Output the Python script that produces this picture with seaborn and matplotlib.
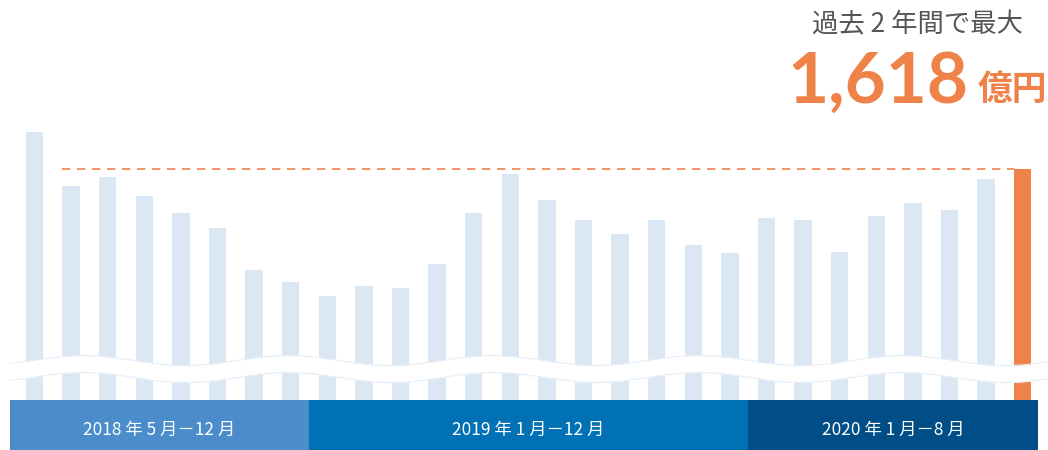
import numpy as np
import matplotlib
matplotlib.use("Agg")
from matplotlib import pyplot as plt
from matplotlib.patches import Rectangle
import matplotlib.transforms as mtransforms
import seaborn as sns

# monthly values (億円), May 2018 - Aug 2020
months = ['2018-05', '2018-06', '2018-07', '2018-08', '2018-09', '2018-10', '2018-11', '2018-12',
          '2019-01', '2019-02', '2019-03', '2019-04', '2019-05', '2019-06', '2019-07', '2019-08',
          '2019-09', '2019-10', '2019-11', '2019-12',
          '2020-01', '2020-02', '2020-03', '2020-04', '2020-05', '2020-06', '2020-07', '2020-08']
sales = [1717, 1572, 1598, 1547, 1501, 1462, 1347, 1316,
         1278, 1306, 1300, 1365, 1502, 1605, 1535, 1481,
         1446, 1481, 1415, 1393,
         1487, 1481, 1397, 1494, 1529, 1510, 1591, 1618]
periods = ['2018 年 5 月－12 月', '2019 年 1 月－12 月', '2020 年 1 月－8 月']
period_lengths = [8, 12, 8]
period_colors = ['#4a8dca', '#0071b5', '#004d88']
headline = '過去 2 年間で最大'
peak_label = '1,618'
unit_label = '億円'

LIGHT = '#dbe7f3'
ORANGE = '#ef8248'

sns.set_theme(style='white')
plt.rcParams['font.family'] = ['Noto Sans CJK JP', 'DejaVu Sans']

# broken axis: baseline hidden below the wave
BASE = 1000
peak = sales[-1]
k = (peak - BASE) / (400 - 169.3)   # value per pixel

def px2x(px):
    return (np.asarray(px) - 34.5) / 36.6

def py2y(py):
    return BASE + (400 - np.asarray(py)) * k

fig = plt.figure(figsize=(10.48, 4.5), dpi=100)
ax = fig.add_axes([0, 0, 1, 1])

bar_colors = [LIGHT] * (len(sales) - 1) + [ORANGE]
sns.barplot(x=months, y=sales, hue=months, palette=bar_colors, width=0.48,
            saturation=1, legend=False, ax=ax, linewidth=0)
ax.set_xlim(px2x(0), px2x(1048))
ax.set_ylim(py2y(450), py2y(0))
ax.axis('off')

# dashed reference line at the peak
ax.hlines(peak, 0.74, len(sales) - 1.24, colors=ORANGE, linestyles=(0, (5, 4)),
          linewidth=1.2, zorder=3)

# wavy break
wx = np.linspace(10, 1048, 400)
wc = 369 - 5 * np.cos(2 * np.pi * (wx - 83) / 205)
ax.fill_between(px2x(wx), py2y(wc - 8.5), py2y(wc + 8.5), color='white', lw=0, zorder=4)
ax.plot(px2x(wx), py2y(wc - 8.5), color='#e6eef7', lw=0.8, zorder=4)
ax.plot(px2x(wx), py2y(wc + 8.5), color='#e6eef7', lw=0.8, zorder=4)

# period bands
trans = mtransforms.blended_transform_factory(ax.transData, ax.transAxes)
edges = [px2x(10)] + list(np.cumsum(period_lengths)[:-1] - 0.5) + [px2x(1038.3)]
for i, label in enumerate(periods):
    left, right = edges[i], edges[i + 1]
    ax.add_patch(Rectangle((left, 0), right - left, 50 / 450, transform=trans,
                           color=period_colors[i], lw=0, zorder=5))
    ax.text((left + right) / 2, 20 / 450, label, transform=trans, ha='center', va='center',
            color='white', fontsize=12.5, zorder=6)

# headline
fig.text(917 / 1048, 1 - 25 / 450, headline, ha='center', va='center',
         fontsize=19, color='#555555')
fig.text(968 / 1048, (450 - 103) / 450, peak_label, ha='right', va='baseline',
         fontsize=51, fontweight='bold', color=ORANGE, family=['Lato', 'DejaVu Sans'])
fig.text(978 / 1048, (450 - 100) / 450, unit_label, ha='left', va='baseline',
         fontsize=25, fontweight='bold', color=ORANGE)

fig.savefig('out.png', dpi=100)
